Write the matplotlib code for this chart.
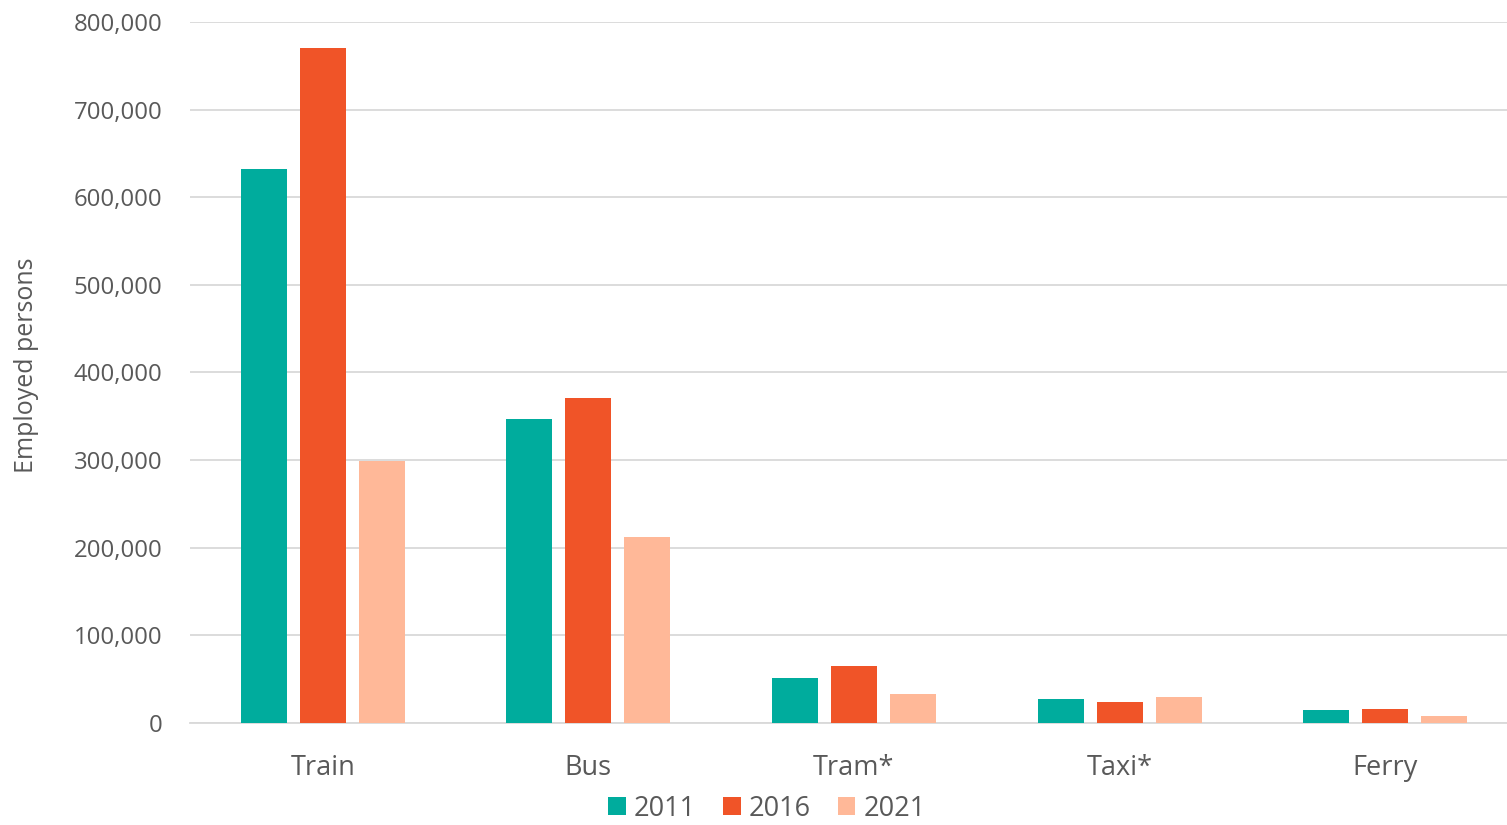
import matplotlib
matplotlib.use("Agg")
import matplotlib.pyplot as plt
import numpy as np
from matplotlib.ticker import FuncFormatter

categories = ["Train", "Bus", "Tram*", "Taxi*", "Ferry"]
years = ["2011", "2016", "2021"]
v2011 = [632000, 347000, 51000, 27000, 14500]
v2016 = [770000, 371000, 65000, 24400, 16300]
v2021 = [299000, 212000, 33600, 30100, 8000]
colors = ["#00AC9D", "#F05428", "#FFB898"]

plt.rcParams["font.family"] = ["Open Sans", "DejaVu Sans"]
text_col = "#595959"

fig = plt.figure(figsize=(15.07, 8.25), dpi=100)
# plot area runs a little past the right edge of the figure
ax = fig.add_axes([190 / 1507, 1 - 723 / 825, (1518 - 190) / 1507, (723 - 22) / 825])

x = np.arange(len(categories))
width = 0.173
step = 0.222
for i, (vals, yr) in enumerate(zip([v2011, v2016, v2021], years)):
    ax.bar(x + (i - 1) * step, vals, width, color=colors[i], label=yr, zorder=3)

ax.set_xlim(-0.5, len(categories) - 0.5)
ax.set_ylim(0, 800000)
ax.set_yticks(np.arange(0, 800001, 100000))
ax.yaxis.set_major_formatter(FuncFormatter(lambda v, p: f"{int(v):,}"))
ax.set_xticks(x)
ax.set_xticklabels(categories)
ax.grid(axis="y", color="#d9d9d9", lw=1.3, zorder=0)
for s in ["top", "right", "left"]:
    ax.spines[s].set_visible(False)
ax.spines["bottom"].set_color("#d9d9d9")
ax.spines["bottom"].set_linewidth(1.3)
ax.tick_params(axis="y", length=0, pad=20, labelsize=17.3, labelcolor=text_col)
ax.tick_params(axis="x", length=0, pad=22, labelsize=19.5, labelcolor=text_col)
ax.set_ylabel("Employed persons", fontsize=18, color=text_col)
ax.yaxis.set_label_coords(-0.114, 0.51)

leg = fig.legend(loc="lower center", bbox_to_anchor=(767 / 1507, -0.027), ncol=3,
                 frameon=False, fontsize=19.5, handlelength=0.65, handleheight=0.65,
                 handletextpad=0.3, columnspacing=1.0)
for t in leg.get_texts():
    t.set_color(text_col)

fig.savefig("out.png", dpi=100)
